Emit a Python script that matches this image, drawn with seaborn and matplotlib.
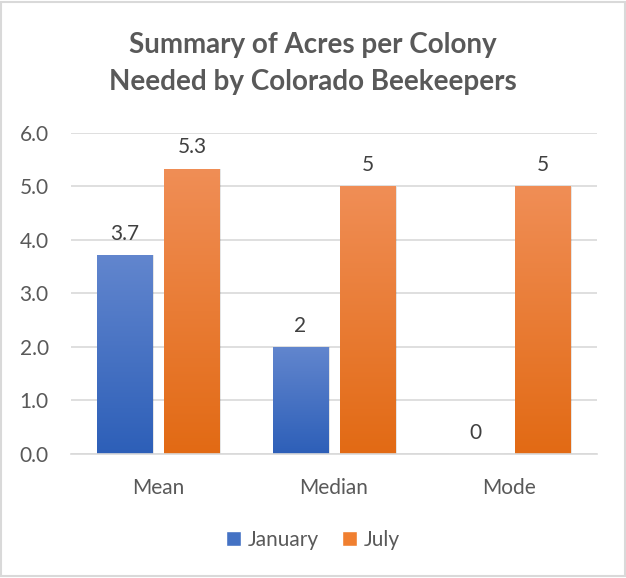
import numpy as np
import pandas as pd
import seaborn as sns
import matplotlib.pyplot as plt
from matplotlib.patches import Rectangle
from matplotlib.colors import LinearSegmentedColormap

# chart data
stats = ["Mean", "Median", "Mode"]
january = [3.72, 2, 0]
july = [5.33, 5, 5]
months = ["January", "July"]

df = pd.DataFrame({
    "stat": stats * 2,
    "month": ["January"] * 3 + ["July"] * 3,
    "value": january + july,
})

text_col = "#595959"
sns.set_theme(style="white")
plt.rcParams["font.family"] = ["Lato", "DejaVu Sans"]

fig = plt.figure(figsize=(6.26, 5.78), dpi=100)
ax = fig.add_axes([0.1134, 0.2145, 0.8403, 0.5559])

sns.barplot(data=df, x="stat", y="value", hue="month", hue_order=months,
            palette=["#4472C4", "#ED7D31"], width=0.764, gap=0.17,
            ax=ax, legend=False)

# gradient fill like the excel bars
grads = {
    "January": LinearSegmentedColormap.from_list("jan", ["#2D5FB8", "#6286CE"]),
    "July": LinearSegmentedColormap.from_list("jul", ["#E26A14", "#F08E56"]),
}
grad = np.linspace(0, 1, 256).reshape(-1, 1)
for container, m in zip(ax.containers, months):
    for bar in container:
        x0, y0 = bar.get_x(), bar.get_y()
        w, h = bar.get_width(), bar.get_height()
        if h <= 0:
            continue
        # soft shadow
        sh = Rectangle((x0 + 0.008, y0), w, h - 0.01, facecolor="#000000",
                       alpha=0.10, edgecolor="none", zorder=1.5)
        ax.add_patch(sh)
        im = ax.imshow(grad, cmap=grads[m], aspect="auto", origin="lower",
                       extent=[x0, x0 + w, y0, y0 + h], zorder=2)
        im.set_clip_path(bar)
        bar.set_facecolor("none")
        bar.set_edgecolor("none")
    labels = [f"{v:.1f}".rstrip("0").rstrip(".") for v in container.datavalues]
    ax.bar_label(container, labels=labels, padding=8, fontsize=15, color="#404040")

ax.set_xlim(-0.5, 2.5)
ax.set_ylim(0, 6)
ax.set_yticks(np.arange(0, 6.1, 1.0))
ax.set_yticklabels([f"{t:.1f}" for t in np.arange(0, 6.1, 1.0)])
ax.yaxis.grid(True, color="#D9D9D9", linewidth=1.2)
ax.set_axisbelow(True)
sns.despine(ax=ax, left=True, top=True, right=True)
ax.spines["bottom"].set_color("#D9D9D9")
ax.spines["bottom"].set_linewidth(1.2)
ax.tick_params(axis="both", length=0, labelsize=15, labelcolor=text_col)
ax.tick_params(axis="y", pad=16)
ax.tick_params(axis="x", pad=17)
ax.set_xlabel("")
ax.set_ylabel("")

fig.text(0.5, 0.89, "Summary of Acres per Colony\nNeeded by Colorado Beekeepers",
         ha="center", va="center", fontsize=20, fontweight="bold",
         color=text_col, linespacing=1.55)

handles = [Rectangle((0, 0), 1, 1, facecolor=c) for c in ["#4472C4", "#F07F30"]]
fig.legend(handles, months, loc="center", bbox_to_anchor=(0.5, 0.066), ncol=2,
           frameon=False, fontsize=15, labelcolor=text_col, handlelength=0.7,
           handleheight=0.7, handletextpad=0.35, columnspacing=1.1)

# light chart border
fig.patches.append(Rectangle((0.002, 0.003), 0.996, 0.994, transform=fig.transFigure,
                             fill=False, edgecolor="#D9D9D9", linewidth=1.5))

fig.savefig("out.png", dpi=100)
